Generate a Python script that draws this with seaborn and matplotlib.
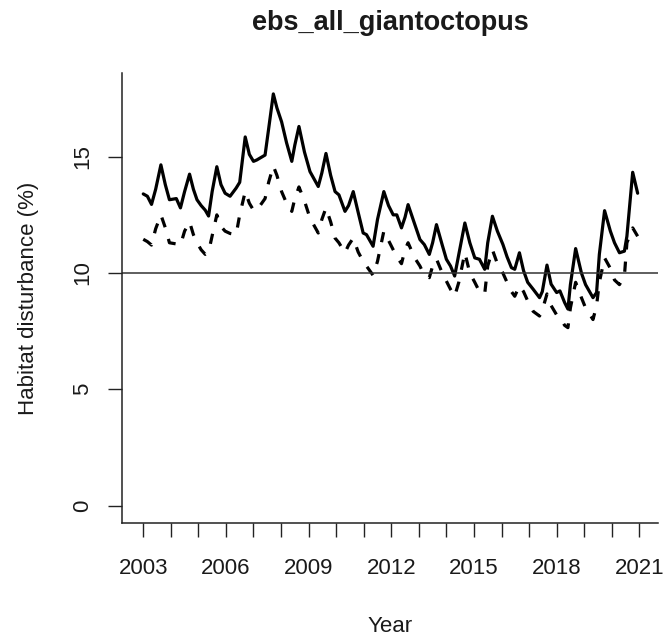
import matplotlib
matplotlib.use('Agg')
import matplotlib.pyplot as plt
import numpy as np
import pandas as pd
import seaborn as sns

# time in decimal years
time = [
    2003.00, 2003.15, 2003.30, 2003.45, 2003.64, 2003.80, 2003.95,
    2004.20, 2004.35, 2004.50, 2004.68, 2004.82, 2004.95,
    2005.10, 2005.25, 2005.37, 2005.50, 2005.67, 2005.82, 2005.97,
    2006.15, 2006.37, 2006.50, 2006.70, 2006.85,
    2007.00, 2007.12, 2007.42, 2007.55, 2007.72, 2007.85,
    2008.02, 2008.20, 2008.39, 2008.50, 2008.65, 2008.85,
    2009.05, 2009.35, 2009.48, 2009.63, 2009.80, 2009.96,
    2010.10, 2010.32, 2010.45, 2010.62, 2010.80, 2010.98,
    2011.10, 2011.34, 2011.50, 2011.73, 2011.90,
    2012.07, 2012.20, 2012.37, 2012.50, 2012.61, 2012.85,
    2013.04, 2013.20, 2013.38, 2013.50, 2013.64, 2013.85,
    2014.00, 2014.15, 2014.30, 2014.45, 2014.67, 2014.85,
    2015.03, 2015.20, 2015.39, 2015.50, 2015.67, 2015.85,
    2016.05, 2016.20, 2016.36, 2016.48, 2016.65, 2016.80, 2016.95,
    2017.15, 2017.38, 2017.48, 2017.65, 2017.80,
    2018.00, 2018.12, 2018.29, 2018.41, 2018.50, 2018.69, 2018.90,
    2019.05, 2019.32, 2019.45, 2019.55, 2019.74, 2019.95,
    2020.10, 2020.28, 2020.46, 2020.55, 2020.76, 2020.94,
]

# solid line
disturb_all = [
    13.40, 13.30, 12.95, 13.60, 14.65, 13.80, 13.15,
    13.20, 12.80, 13.50, 14.25, 13.60, 13.15,
    12.90, 12.70, 12.45, 13.50, 14.57, 13.80, 13.43,
    13.30, 13.65, 13.90, 15.85, 15.10,
    14.80, 14.86, 15.07, 16.20, 17.70, 17.10,
    16.50, 15.60, 14.80, 15.50, 16.30, 15.20,
    14.36, 13.72, 14.30, 15.14, 14.20, 13.50,
    13.36, 12.65, 12.90, 13.50, 12.60, 11.72,
    11.65, 11.15, 12.30, 13.50, 12.90,
    12.50, 12.50, 11.94, 12.40, 12.94, 12.10,
    11.44, 11.22, 10.80, 11.30, 12.08, 11.20,
    10.59, 10.30, 9.87, 10.80, 12.15, 11.30,
    10.65, 10.59, 10.16, 11.30, 12.44, 11.80,
    11.23, 10.70, 10.23, 10.16, 10.87, 10.10, 9.60,
    9.30, 8.94, 9.20, 10.34, 9.52,
    9.16, 9.23, 8.73, 8.45, 9.50, 11.05, 10.00,
    9.50, 8.94, 9.16, 10.80, 12.68, 11.80,
    11.30, 10.87, 10.94, 11.58, 14.33, 13.43,
]

# dashed line
disturb_sub = [
    11.45, 11.35, 11.20, 11.90, 12.50, 11.95, 11.30,
    11.25, 11.20, 11.80, 12.20, 11.65, 11.30,
    11.00, 10.80, 10.90, 11.60, 12.50, 12.00, 11.80,
    11.70, 11.65, 12.50, 13.50, 13.00,
    12.70, 12.70, 13.20, 13.90, 14.60, 14.20,
    13.50, 13.00, 12.65, 13.20, 13.70, 13.10,
    12.36, 11.72, 12.30, 12.80, 12.20, 11.50,
    11.30, 10.87, 11.20, 11.50, 10.90, 10.50,
    10.30, 9.90, 10.50, 11.80, 11.40,
    11.00, 10.70, 10.40, 11.00, 11.30, 10.65,
    10.30, 9.90, 9.80, 10.30, 10.60, 10.00,
    9.65, 9.30, 9.00, 9.60, 10.87, 10.00,
    9.60, 9.20, 9.10, 10.30, 11.00, 10.40,
    10.00, 9.60, 9.20, 9.00, 9.45, 9.20, 8.80,
    8.35, 8.15, 8.40, 9.10, 8.60,
    8.20, 8.10, 7.75, 7.65, 8.50, 9.60, 8.94,
    8.50, 8.00, 8.60, 9.60, 10.65, 10.20,
    9.70, 9.50, 9.87, 11.30, 11.94, 11.58,
]

year_ticks = list(range(2003, 2022))
year_labels = [str(y) if (y - 2003) % 3 == 0 else '' for y in year_ticks]
y_ticks = [0, 5, 10, 15]
ref_level = 10

sns.set_style('ticks')
plt.rcParams['font.family'] = ['Liberation Sans', 'DejaVu Sans']
txt = '#1a1a1a'

df = pd.DataFrame({'time': time, 'all': disturb_all, 'sub': disturb_sub})

fig = plt.figure(figsize=(6.68, 6.39), dpi=100)
ax = fig.add_axes([0.1831, 0.1811, 0.8024, 0.7047])

sns.lineplot(data=df, x='time', y='all', ax=ax, color='black', linewidth=2.3)
sns.lineplot(data=df, x='time', y='sub', ax=ax, color='black', linewidth=2.3,
             dashes=False, linestyle=(0, (3.2, 3.8)))
ax.axhline(ref_level, color='#333333', linewidth=1.1)

ax.set_xlim(2002.24, 2021.69)
ax.set_ylim(-0.76, 18.6)
ax.set_xticks(year_ticks)
ax.set_xticklabels(year_labels)
ax.set_yticks(y_ticks)
ax.set_yticklabels([str(v) for v in y_ticks])

ax.tick_params(axis='both', length=10, width=1.0, color='#222222',
               labelsize=16, labelcolor=txt)
ax.tick_params(axis='x', pad=15)
ax.tick_params(axis='y', pad=11)
for lab in ax.get_yticklabels():
    lab.set_rotation(90)
    lab.set_va('center')
    lab.set_ha('right')

for side in ['left', 'bottom']:
    ax.spines[side].set_linewidth(1.1)
    ax.spines[side].set_color('#222222')
sns.despine(ax=ax)

ax.set_xlabel('Year', fontsize=16, color=txt, labelpad=27)
ax.set_ylabel('Habitat disturbance (%)', fontsize=16, color=txt, labelpad=24)
ax.set_title('ebs_all_giantoctopus', fontsize=19.5, fontweight='bold',
             color=txt, pad=31)

fig.savefig('out.png', dpi=100)
